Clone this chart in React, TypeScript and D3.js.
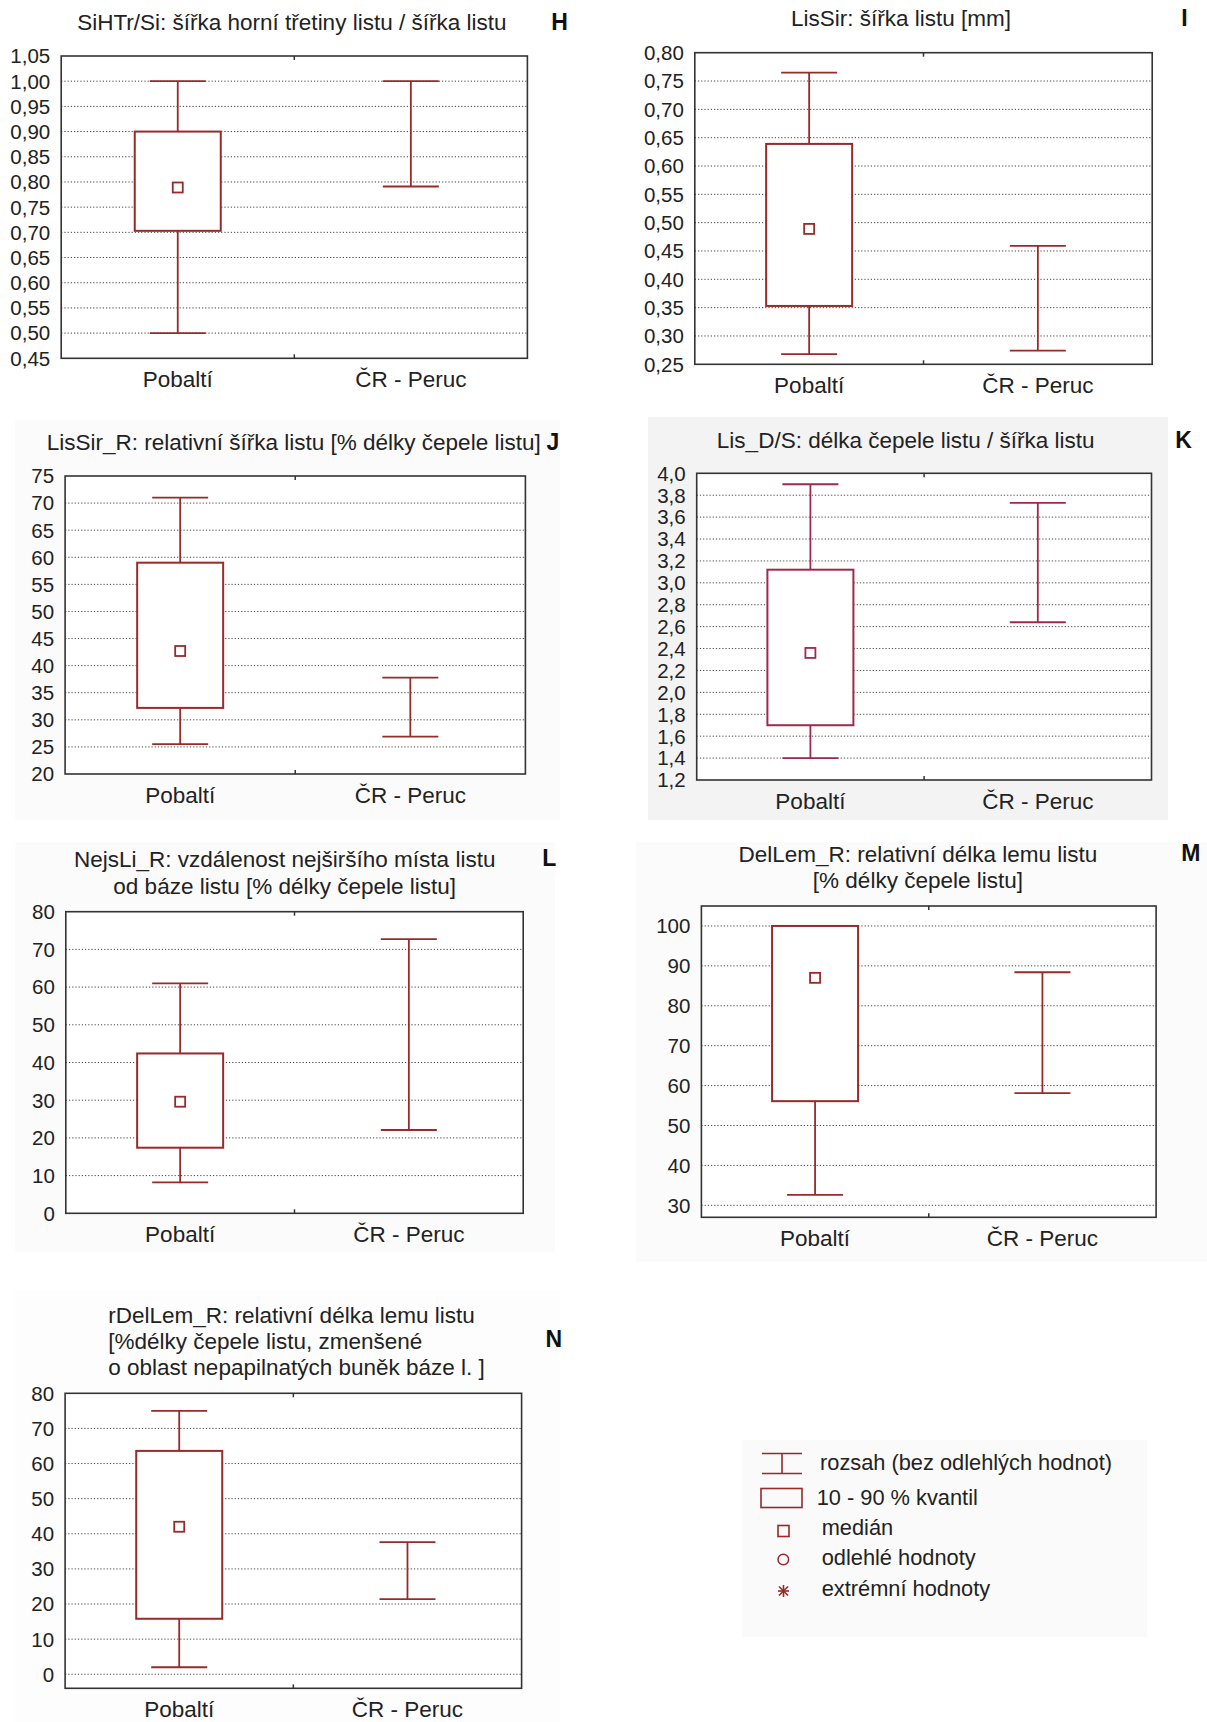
import React from "react";
import * as d3 from "d3";

// ---------- DATA ----------
const categories = ["Pobaltí", "ČR - Peruc"];
const panelLetters = ["H", "I", "J", "K", "L", "M", "N"];
const panelTitles = [
  ["SiHTr/Si: šířka horní třetiny listu / šířka listu"],
  ["LisSir: šířka listu [mm]"],
  ["LisSir_R: relativní šířka listu [% délky čepele listu]"],
  ["Lis_D/S: délka čepele listu / šířka listu"],
  ["NejsLi_R: vzdálenost nejširšího místa listu", "od báze listu [% délky čepele listu]"],
  ["DelLem_R: relativní délka lemu listu", "[% délky čepele listu]"],
  ["rDelLem_R: relativní délka lemu listu", "[%délky čepele listu, zmenšené", "o oblast nepapilnatých buněk báze l. ]"],
];

// Pobaltí: range (whiskers), 10–90 % quantile box, median
const pobaltiMin = [0.5, 0.268, 25.5, 1.4, 8.2, 32.6, 2.0];
const pobaltiQ10 = [0.703, 0.353, 32.2, 1.7, 17.4, 56.1, 15.8];
const pobaltiQ90 = [0.9, 0.639, 59.0, 3.12, 42.4, 100, 63.6];
const pobaltiMax = [1.0, 0.765, 71.0, 3.9, 61.0, 100, 75.0];
const pobaltiMedian = [0.789, 0.489, 42.7, 2.36, 29.6, 87.0, 42.0];
// ČR - Peruc: range only
const perucMin = [0.791, 0.274, 26.9, 2.64, 22.1, 58.1, 21.4];
const perucMax = [1.0, 0.459, 37.8, 3.73, 72.7, 88.4, 37.6];

const yDomains: [number, number][] = [
  [0.45, 1.05],
  [0.25, 0.8],
  [20, 75],
  [1.2, 4.0],
  [0, 80],
  [27, 105],
  [-4, 80],
];
const ticksH = [0.45, 0.5, 0.55, 0.6, 0.65, 0.7, 0.75, 0.8, 0.85, 0.9, 0.95, 1.0, 1.05];
const ticksI = [0.25, 0.3, 0.35, 0.4, 0.45, 0.5, 0.55, 0.6, 0.65, 0.7, 0.75, 0.8];
const ticksJ = [20, 25, 30, 35, 40, 45, 50, 55, 60, 65, 70, 75];
const ticksK = [1.2, 1.4, 1.6, 1.8, 2.0, 2.2, 2.4, 2.6, 2.8, 3.0, 3.2, 3.4, 3.6, 3.8, 4.0];
const ticksL = [0, 10, 20, 30, 40, 50, 60, 70, 80];
const ticksM = [30, 40, 50, 60, 70, 80, 90, 100];
const ticksN = [0, 10, 20, 30, 40, 50, 60, 70, 80];
const panelTicks = [ticksH, ticksI, ticksJ, ticksK, ticksL, ticksM, ticksN];
const tickDecimals = [2, 2, 0, 1, 0, 0, 0];

const legendLabels = [
  "rozsah (bez odlehlých hodnot)",
  "10 - 90 % kvantil",
  "medián",
  "odlehlé hodnoty",
  "extrémní hodnoty",
];

// ---------- LAYOUT ----------
type Layout = {
  x0: number; x1: number; y0: number; y1: number;
  tx: number; ty: number[]; anchor: string;
  lx: number; ly: number;
  color: string;
};
const layouts: Layout[] = [
  { x0: 61.2, x1: 527.4, y0: 56, y1: 358.3, tx: 291.8, ty: [30], anchor: "middle", lx: 559.5, ly: 30, color: "#982a2a" },
  { x0: 694.8, x1: 1152.2, y0: 52.7, y1: 364.3, tx: 900.9, ty: [26], anchor: "middle", lx: 1184.4, ly: 26, color: "#982a2a" },
  { x0: 65.1, x1: 525.4, y0: 476, y1: 774, tx: 293.7, ty: [450], anchor: "middle", lx: 553, ly: 450, color: "#982a2a" },
  { x0: 696.7, x1: 1151.5, y0: 473.3, y1: 780, tx: 905.7, ty: [448], anchor: "middle", lx: 1183.6, ly: 448, color: "#a0284c" },
  { x0: 65.8, x1: 523.2, y0: 911.7, y1: 1213.3, tx: 284.7, ty: [866.7, 894], anchor: "middle", lx: 549.2, ly: 866, color: "#982a2a" },
  { x0: 701.4, x1: 1156.1, y0: 906, y1: 1217.3, tx: 917.9, ty: [861.7, 888.3], anchor: "middle", lx: 1190.9, ly: 861, color: "#982a2a" },
  { x0: 65.1, x1: 521.6, y0: 1393.3, y1: 1688.3, tx: 108.3, ty: [1323, 1349, 1375], anchor: "start", lx: 553.8, ly: 1347, color: "#982a2a" },
];

const FONT = "'Liberation Sans', Arial, Helvetica, sans-serif";
const TEXT = "#222";

function T(props: {
  x: number; y: number; size: number; anchor?: string;
  weight?: string | number; dy?: string; children: React.ReactNode; fill?: string;
}) {
  const { x, y, size, anchor = "start", weight = "normal", dy, children, fill = TEXT } = props;
  return (
    <text
      x={x}
      y={y}
      fontFamily={FONT}
      fontSize={size}
      fontWeight={weight as any}
      textAnchor={anchor as any}
      dy={dy}
      fill={fill}
    >
      {children}
    </text>
  );
}

function Panel({ i }: { i: number }) {
  const L = layouts[i];
  const dom = yDomains[i];
  const y = d3.scaleLinear().domain(dom).range([L.y1, L.y0]);
  const x = d3.scalePoint<string>().domain(categories).range([L.x0, L.x1]).padding(0.5);
  const ticks = panelTicks[i];
  const fmt = (v: number) => v.toFixed(tickDecimals[i]).replace(".", ",");
  const eps = 1e-9;
  const grid = ticks.filter((t) => t > dom[0] + eps && t < dom[1] - eps);
  const c = L.color;
  const boxW = 86;
  const capW = 56;
  const med = 10;
  const xp = x(categories[0])!;
  const xc = x(categories[1])!;
  const midX = (L.x0 + L.x1) / 2;

  return (
    <g>
      <rect x={L.x0} y={L.y0} width={L.x1 - L.x0} height={L.y1 - L.y0} fill="#fff" />
      {grid.map((t) => (
        <line key={t} x1={L.x0} x2={L.x1} y1={y(t)} y2={y(t)} stroke="#444" strokeWidth={1} strokeDasharray="1.2,2" />
      ))}
      {/* Pobaltí whiskers */}
      <line x1={xp} x2={xp} y1={y(pobaltiMin[i])} y2={y(pobaltiMax[i])} stroke={c} strokeWidth={1.8} />
      <line x1={xp - capW / 2} x2={xp + capW / 2} y1={y(pobaltiMin[i])} y2={y(pobaltiMin[i])} stroke={c} strokeWidth={1.8} />
      <line x1={xp - capW / 2} x2={xp + capW / 2} y1={y(pobaltiMax[i])} y2={y(pobaltiMax[i])} stroke={c} strokeWidth={1.8} />
      {/* Pobaltí box */}
      <rect
        x={xp - boxW / 2}
        y={y(pobaltiQ90[i])}
        width={boxW}
        height={y(pobaltiQ10[i]) - y(pobaltiQ90[i])}
        fill="#fff"
        stroke={c}
        strokeWidth={2}
      />
      <rect x={xp - med / 2} y={y(pobaltiMedian[i]) - med / 2} width={med} height={med} fill="#fff" stroke={c} strokeWidth={1.8} />
      {/* ČR whiskers */}
      <line x1={xc} x2={xc} y1={y(perucMin[i])} y2={y(perucMax[i])} stroke={c} strokeWidth={1.8} />
      <line x1={xc - capW / 2} x2={xc + capW / 2} y1={y(perucMin[i])} y2={y(perucMin[i])} stroke={c} strokeWidth={1.8} />
      <line x1={xc - capW / 2} x2={xc + capW / 2} y1={y(perucMax[i])} y2={y(perucMax[i])} stroke={c} strokeWidth={1.8} />
      {/* frame */}
      <rect x={L.x0} y={L.y0} width={L.x1 - L.x0} height={L.y1 - L.y0} fill="none" stroke="#333" strokeWidth={1.6} />
      <line x1={midX} x2={midX} y1={L.y0} y2={L.y0 + 4} stroke="#333" strokeWidth={1.5} />
      <line x1={midX} x2={midX} y1={L.y1} y2={L.y1 - 4} stroke="#333" strokeWidth={1.5} />
      {ticks.map((t) => (
        <T key={t} x={L.x0 - 11} y={y(t)} size={20.5} anchor="end" dy="0.36em">
          {fmt(t)}
        </T>
      ))}
      {categories.map((cat) => (
        <T key={cat} x={x(cat)!} y={L.y1 + 28.5} size={22.5} anchor="middle">
          {cat}
        </T>
      ))}
      {panelTitles[i].map((line, k) => (
        <T key={k} x={L.tx} y={L.ty[k]} size={22.5} anchor={L.anchor}>
          {line}
        </T>
      ))}
      <T x={L.lx} y={L.ly} size={23} anchor="middle" weight="bold" fill="#111">
        {panelLetters[i]}
      </T>
    </g>
  );
}

function Legend() {
  const c = "#982a2a";
  const sx = 782;
  return (
    <g>
      <rect x={742} y={1440} width={405} height={197} fill="#fafafa" />
      <line x1={762} x2={802} y1={1453.5} y2={1453.5} stroke={c} strokeWidth={1.6} />
      <line x1={762} x2={802} y1={1473.5} y2={1473.5} stroke={c} strokeWidth={1.6} />
      <line x1={sx} x2={sx} y1={1453.5} y2={1473.5} stroke={c} strokeWidth={1.6} />
      <T x={820} y={1470} size={21.8}>{legendLabels[0]}</T>
      <rect x={761} y={1488.5} width={41} height={19} fill="none" stroke={c} strokeWidth={1.6} />
      <T x={816.7} y={1505} size={21.8}>{legendLabels[1]}</T>
      <rect x={778} y={1525.5} width={11} height={11} fill="none" stroke={c} strokeWidth={1.6} />
      <T x={821.7} y={1535} size={21.8}>{legendLabels[2]}</T>
      <circle cx={783.3} cy={1559.5} r={5.3} fill="none" stroke={c} strokeWidth={1.5} />
      <T x={821.7} y={1565} size={21.8}>{legendLabels[3]}</T>
      <g stroke={c} strokeWidth={1.6}>
        <line x1={778} x2={789} y1={1591} y2={1591} />
        <line x1={783.5} x2={783.5} y1={1585} y2={1597} />
        <line x1={779} x2={788} y1={1586.5} y2={1595.5} />
        <line x1={788} x2={779} y1={1586.5} y2={1595.5} />
      </g>
      <T x={821.7} y={1596} size={21.8}>{legendLabels[4]}</T>
    </g>
  );
}

export default function App() {
  return (
    <svg
      width={1207}
      height={1722}
      viewBox="0 0 1207 1722"
      style={{ position: "absolute", left: 0, top: 0, background: "#fff" }}
    >
      <rect x={0} y={0} width={1207} height={1722} fill="#fff" />
      <rect x={15} y={420} width={545} height={400} fill="#fbfbfb" />
      <rect x={648} y={417} width={520} height={403} fill="#f3f3f3" />
      <rect x={15} y={842} width={540} height={410} fill="#fbfbfb" />
      <rect x={636} y={842} width={571} height={420} fill="#fbfbfb" />
      <rect x={15} y={1290} width={545} height={432} fill="#fdfdfd" />
      {layouts.map((_, i) => (
        <Panel key={i} i={i} />
      ))}
      <Legend />
    </svg>
  );
}
